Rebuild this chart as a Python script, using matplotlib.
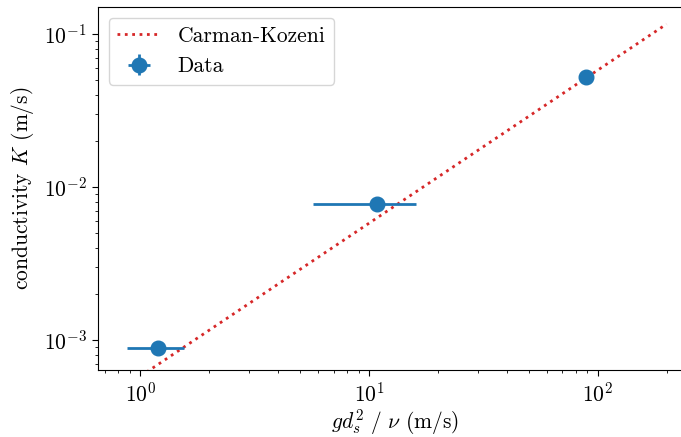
import numpy as np
import matplotlib
matplotlib.use("Agg")
import matplotlib.pyplot as plt

plt.rcParams['font.family'] = 'serif'
plt.rcParams['font.serif'] = ['cmr10']
plt.rcParams['mathtext.fontset'] = 'cm'
plt.rcParams['axes.formatter.use_mathtext'] = True
plt.rcParams['font.size'] = 15.5

# measured points
data_x = [1.2, 10.8, 88.6]
data_K = [8.85e-4, 7.75e-3, 5.2e-2]
data_xerr_lo = [0.33, 5.1, 0.0]
data_xerr_hi = [0.35, 5.2, 0.0]
data_Kerr = [0.0, 0.0, 0.0]

# Carman-Kozeni prediction
ck_x = [1.0, 200.0]
ck_K = [5.8e-4, 0.116]

fig = plt.figure(figsize=(6.81, 4.37), dpi=100)
# right edge of the axes sits just past the figure border (cropped in the original)
ax = fig.add_axes([0.144, 0.1533, 0.8708, 0.8307])

ax.plot(ck_x, ck_K, ':', color='#d62728', lw=2, label='Carman-Kozeni')
ax.errorbar(data_x, data_K, xerr=[data_xerr_lo, data_xerr_hi], yerr=data_Kerr,
            fmt='o', color='#1f77b4', ms=10.5, elinewidth=2, label='Data')

ax.set_xscale('log')
ax.set_yscale('log')
ax.set_xlim(0.653, 256)
ax.set_ylim(6.37e-4, 0.150)
ax.tick_params(which='major', length=4.5)
ax.tick_params(which='minor', length=2.5)
ax.spines['right'].set_visible(False)

ax.set_xlabel(r'$g d_s^2\ /\ \nu$ (m/s)', labelpad=1.5)
ax.set_ylabel(r'conductivity $K$ (m/s)', labelpad=6)
ax.legend(loc='upper left')

fig.savefig('out.png', dpi=100)
